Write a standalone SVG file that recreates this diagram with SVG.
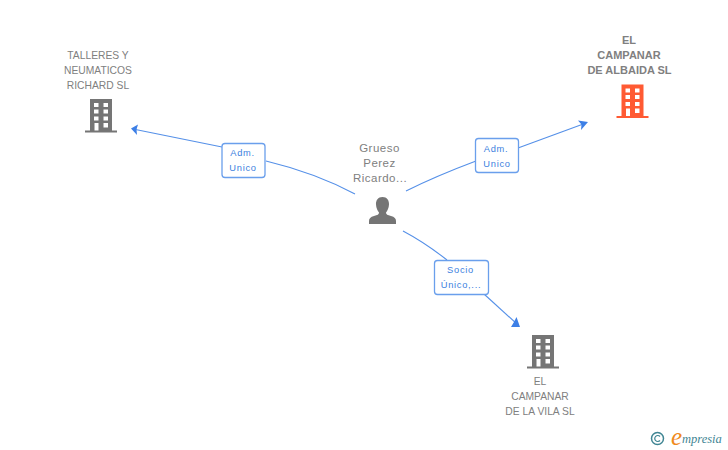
<svg xmlns="http://www.w3.org/2000/svg" xmlns:xlink="http://www.w3.org/1999/xlink" width="728" height="450" viewBox="0 0 728 450">
<style>
text{font-family:"Liberation Sans",Arial,sans-serif}
.n{font-size:10.3px;fill:#808080;text-anchor:middle}
.b{font-size:11px;font-weight:bold;fill:#808080;text-anchor:middle}
.p{font-size:11.5px;fill:#808080;text-anchor:middle;letter-spacing:.5px}
.l{font-size:9.3px;fill:#3d7fe0;text-anchor:middle;letter-spacing:.7px}
.c{fill:none;stroke:#5590e8;stroke-width:1.1}
.a{fill:#3d7fe6}
.box{fill:#fff;stroke:#6a9fec;stroke-width:1.3}
</style>
<defs>
<symbol id="bld" viewBox="0 0 32 34" width="32" height="34" overflow="visible">
<path fill-rule="evenodd" d="M5 0H27V31.5H32V33.5H0V31.5H5ZM9 4V8H13.500V4ZM18.500 4V8H23V4ZM9 10.500V14.500H13.500V10.500ZM18.500 10.500V14.500H23V10.500ZM9 17.500V21.500H13.500V17.500ZM18.500 17.500V21.500H23V17.500ZM9.500 24V31.500H13.500V24ZM18.500 24V28.500H23V24Z"/>
</symbol>
</defs>
<g id="connectors">
<path class="c" d="M355 194C325 178 295 168 266 161"/>
<path class="c" d="M222 147L133 129"/>
<path class="a" d="M131 128.500L138 124.500L136.500 129.500L137 135Z"/>
<path class="c" d="M406 191C430 179 452 170 476 161"/>
<path class="c" d="M518 148L586 123"/>
<path class="a" d="M588 122L578 120.500L581.500 124.500L581 130Z"/>
<path class="c" d="M403 231C420 240 433 249 447 260"/>
<path class="c" d="M484 294L517 324"/>
<path class="a" d="M520 327L516.500 317L514 322L511 327Z"/>
</g>
<g id="edge-label-1"><rect class="box" x="222" y="143.500" width="43" height="34" rx="3"/><text class="l" x="242.500" y="156">Adm.</text><text class="l" x="243" y="171">Unico</text></g>
<g id="edge-label-2"><rect class="box" x="475.500" y="138.500" width="43" height="34" rx="3"/><text class="l" x="496" y="152">Adm.</text><text class="l" x="497" y="167">Unico</text></g>
<g id="edge-label-3"><rect class="box" x="434.500" y="260.500" width="54" height="34" rx="3"/><text class="l" x="460.500" y="273">Socio</text><text class="l" x="461" y="288">Único,...</text></g>
<g id="node-talleres">
<text class="n" x="98" y="59">TALLERES Y</text><text class="n" x="98" y="74">NEUMATICOS</text><text class="n" x="98" y="89">RICHARD SL</text>
<use xlink:href="#bld" href="#bld" x="85" y="99" fill="#757575"/>
</g>
<g id="node-albaida">
<text class="b" x="629" y="43.500">EL</text><text class="b" x="629" y="58.500">CAMPANAR</text><text class="b" x="629.500" y="73.500">DE ALBAIDA SL</text>
<use xlink:href="#bld" href="#bld" x="616.500" y="84.500" fill="#ff5a33"/>
</g>
<g id="node-vila">
<use xlink:href="#bld" href="#bld" x="527" y="335" fill="#757575"/>
<text class="n" x="540" y="385">EL</text><text class="n" x="540" y="400">CAMPANAR</text><text class="n" x="540" y="415">DE LA VILA SL</text>
</g>
<g id="node-person">
<text class="p" x="379.500" y="152">Grueso</text><text class="p" x="379.500" y="167">Perez</text><text class="p" x="380" y="182">Ricardo...</text>
<path fill="#757575" d="M382.500 197C378 197 375.800 200.500 376 204.500C376.200 208 377.500 210.500 379 212.500C379 214.500 377.500 215 374 216C370.500 217 369 218.500 369 221V224H396V221C396 218.500 394.500 217 391 216C387.500 215 386 214.500 386 212.500C387.500 210.500 388.800 208 389 204.500C389.200 200.500 387 197 382.500 197Z"/>
</g>
<g id="logo">
<circle cx="657.500" cy="438.500" r="6" fill="none" stroke="#3f8593" stroke-width="1.500"/>
<path d="M660 436.500A3 3 0 1 0 660 440.500" fill="none" stroke="#3f8593" stroke-width="1.200"/>
<text x="671" y="445" font-size="25" font-style="italic" fill="#f08a1d" style="font-family:'Liberation Serif',serif">e</text>
<text x="682" y="443" font-size="12.500" font-style="italic" fill="#3f8593" style="font-family:'Liberation Serif',serif">mpresia</text>
</g>
</svg>
